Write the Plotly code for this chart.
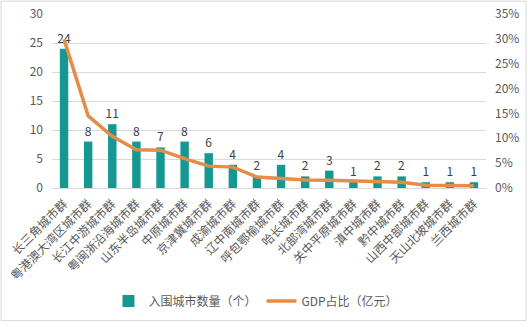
import plotly.graph_objects as go

categories = ["长三角城市群", "粤港澳大湾区城市群", "长江中游城市群", "粤闽浙沿海城市群",
              "山东半岛城市群", "中原城市群", "京津冀城市群", "成渝城市群", "辽中南城市群",
              "呼包鄂榆城市群", "哈长城市群", "北部湾城市群", "关中平原城市群", "滇中城市群",
              "黔中城市群", "山西中部城市群", "天山北坡城市群", "兰西城市群"]
city_counts = [24, 8, 11, 8, 7, 8, 6, 4, 2, 4, 2, 3, 1, 2, 2, 1, 1, 1]
gdp_share = [0.299, 0.145, 0.104, 0.077, 0.076, 0.059, 0.044, 0.042, 0.022,
             0.0195, 0.016, 0.0155, 0.0145, 0.0135, 0.0115, 0.0055, 0.0045, 0.0045]

font_family = "Microsoft YaHei, Noto Sans CJK SC, sans-serif"

fig = go.Figure()
fig.add_trace(go.Bar(
    x=categories, y=city_counts, name="入围城市数量（个）",
    marker=dict(color="#159892", line=dict(width=0)),
    text=[str(v) for v in city_counts], textposition="outside",
    constraintext="none", textangle=0,
    textfont=dict(size=12, color="#404040"), cliponaxis=False,
))
fig.add_trace(go.Scatter(
    x=categories, y=gdp_share, name="GDP占比（亿元）", yaxis="y2",
    mode="lines", line=dict(color="#E38D46", width=3.5),
))

fig.update_layout(
    width=528, height=327,
    margin=dict(l=52, r=42, t=14, b=137),
    paper_bgcolor="white", plot_bgcolor="white",
    font=dict(family=font_family, size=12, color="#595959"),
    bargap=0.65,
    showlegend=True,
    legend=dict(orientation="h", x=0.47, xanchor="center", y=-0.65, yanchor="middle",
                font=dict(size=12, color="#595959"), itemwidth=30, tracegroupgap=0),
    xaxis=dict(tickangle=-45, showgrid=False, showline=True, linecolor="#D9D9D9",
               ticks="", automargin=False, ticklabelstandoff=3,
               tickfont=dict(size=12, color="#595959")),
    yaxis=dict(range=[0, 30], dtick=5, showgrid=True, gridcolor="#D9D9D9",
               zeroline=False, showline=False, ticks="", automargin=False,
               ticklabelstandoff=8, tickfont=dict(size=12, color="#595959")),
    yaxis2=dict(range=[0, 0.35], dtick=0.05, tickformat=".0%", overlaying="y",
                side="right", showgrid=False, zeroline=False, showline=False,
                ticks="", automargin=False, ticklabelstandoff=8,
                tickfont=dict(size=12, color="#595959")),
    shapes=[dict(type="rect", xref="paper", yref="paper",
                 x0=-51/434, x1=1 + 40/434, y0=-134/176, y1=1 + 13/176,
                 line=dict(color="#D9D9D9", width=1))],
)

fig.write_html("out.html")
